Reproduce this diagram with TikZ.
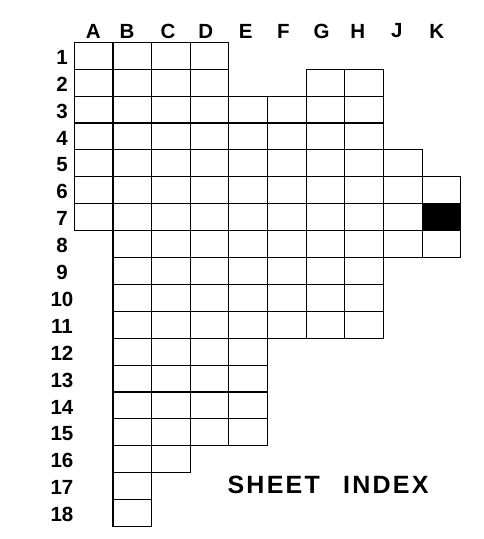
\documentclass[tikz,border=0pt]{standalone}
\usepackage{fontspec}
\setmainfont{Liberation Sans}
\newfontfamily\labfont{Liberation Sans Bold}
\newfontfamily\titlefont[LetterSpace=9]{Liberation Sans Bold}
\begin{document}
\begin{tikzpicture}[x=1pt,y=-1pt,
  cell/.style={draw=black, line width=1.1pt, minimum width=38.65pt, minimum height=26.9pt, inner sep=0pt, outer sep=0pt},
  blackcell/.style={cell, fill=black},
  lab/.style={font=\labfont\fontsize{20.5}{20.5}\selectfont, inner sep=0pt, text=black},
  titlelab/.style={font=\titlefont\fontsize{25}{25}\selectfont, inner sep=0pt, text=black}]
\useasboundingbox (0,0) rectangle (483,539);
\fill[white] (0,0) rectangle (483,539);
% grid cells: row / first column / last column / style
\foreach \r/\a/\b/\s in {1/1/4/cell, 2/1/4/cell, 2/7/8/cell, 3/1/8/cell, 4/1/8/cell,
    5/1/9/cell, 6/1/10/cell, 7/1/9/cell, 7/10/10/blackcell, 8/2/10/cell,
    9/2/8/cell, 10/2/8/cell, 11/2/8/cell, 12/2/5/cell, 13/2/5/cell,
    14/2/5/cell, 15/2/5/cell, 16/2/3/cell, 17/2/2/cell, 18/2/2/cell} {
  \foreach \c in {\a,...,\b} {
    \node[\s] (cell-\r-\c) at ({74.3+38.65*(\c-0.5)}, {42.3+26.9*(\r-0.5)}) {};
  }
}
% column labels
\foreach \n/\x in {A/93.3, B/127, C/168, D/205.7, E/245.7, F/283.3, G/321.7, H/357.7, J/396.7, K/436.7} {
  \node[lab] (col-\n) at (\x,31) {\n};
}
% row labels
\foreach \r in {1,...,18} {
  \node[lab] (row-\r) at (62, {42.3+26.9*(\r-0.5)+1.5}) {\r};
}
\node[titlelab] (title) at (328,485) {SHEET\hspace{14pt} INDEX};
\end{tikzpicture}
\end{document}
